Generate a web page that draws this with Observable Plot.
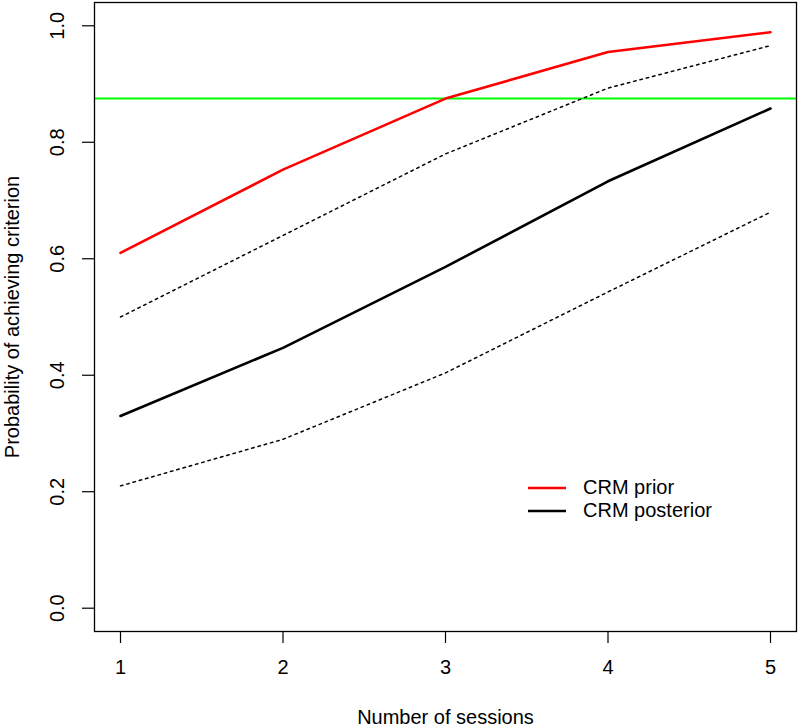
<!DOCTYPE html>
<html>
<head>
<meta charset="utf-8">
<script src="https://cdn.jsdelivr.net/npm/d3@7"></script>
<script src="https://cdn.jsdelivr.net/npm/@observablehq/plot@0.6"></script>
<style>
  html, body { margin: 0; padding: 0; background: #fff; }
  #wrap { position: relative; width: 800px; height: 728px; font-family: "Liberation Sans", Arial, sans-serif; }
  #legend { position: absolute; left: 527px; top: 476px; font-size: 20px; color: #000; }
  #legend .row { display: flex; align-items: center; height: 23px; }
  #legend svg { margin-right: 16px; }
</style>
</head>
<body>
<div id="wrap"></div>
<script>
const sessions = [1, 2, 3, 4, 5];
const priorProb = [0.61, 0.753, 0.875, 0.955, 0.989];
const posteriorMean = [0.33, 0.447, 0.586, 0.733, 0.858];
const posteriorUpper = [0.50, 0.640, 0.780, 0.893, 0.966];
const posteriorLower = [0.21, 0.290, 0.404, 0.543, 0.680];
const criterion = 0.875;
const yTicks = [0.0, 0.2, 0.4, 0.6, 0.8, 1.0];
const xLabel = "Number of sessions";
const yLabel = "Probability of achieving criterion";
const legendItems = [
  {label: "CRM prior", color: "#ff0000"},
  {label: "CRM posterior", color: "#000000"}
];

const toRows = (vals) => sessions.map((s, i) => ({x: s, y: vals[i]}));

const fs = 20;
const chart = Plot.plot({
  width: 800,
  height: 728,
  marginLeft: 94,
  marginRight: 4,
  marginTop: 2,
  marginBottom: 97,
  style: {fontFamily: '"Liberation Sans", Arial, sans-serif', fontSize: fs + "px", background: "#fff", color: "#000"},
  x: {domain: [0.84, 5.16]},
  y: {domain: [-0.04, 1.04]},
  marks: [
    Plot.ruleY([criterion], {stroke: "#00ff00", strokeWidth: 2}),
    Plot.line(toRows(posteriorUpper), {x: "x", y: "y", stroke: "#000", strokeWidth: 1.5, strokeDasharray: "2.5,4"}),
    Plot.line(toRows(posteriorLower), {x: "x", y: "y", stroke: "#000", strokeWidth: 1.5, strokeDasharray: "2.5,4"}),
    Plot.line(toRows(posteriorMean), {x: "x", y: "y", stroke: "#000", strokeWidth: 2.6}),
    Plot.line(toRows(priorProb), {x: "x", y: "y", stroke: "#ff0000", strokeWidth: 2.6}),
    Plot.frame({stroke: "#000", strokeWidth: 1.3}),
    Plot.axisX(sessions, {tickSize: 12, tickPadding: 16, strokeWidth: 1.2, fontSize: fs, label: null, tickFormat: d => String(d)}),
    Plot.axisY(yTicks, {tickSize: 12, strokeWidth: 1.2, text: null, label: null}),
    Plot.text(yTicks, {y: d => d, frameAnchor: "left", dx: -37, rotate: -90, text: d => d.toFixed(1), textAnchor: "middle", lineAnchor: "middle", fontSize: fs, fill: "#000"}),
    Plot.text([xLabel], {frameAnchor: "bottom", dy: 86, text: d => d, lineAnchor: "middle", fontSize: fs, fill: "#000"}),
    Plot.text([yLabel], {frameAnchor: "left", dx: -82, rotate: -90, text: d => d, lineAnchor: "middle", textAnchor: "middle", fontSize: fs, fill: "#000"})
  ]
});
const wrap = document.getElementById("wrap");
wrap.appendChild(chart);

const legend = document.createElement("div");
legend.id = "legend";
for (const item of legendItems) {
  const row = document.createElement("div");
  row.className = "row";
  row.innerHTML = `<svg width="40" height="6"><line x1="1" y1="3" x2="39" y2="3" stroke="${item.color}" stroke-width="2.6"/></svg><span>${item.label}</span>`;
  legend.appendChild(row);
}
wrap.appendChild(legend);
</script>
</body>
</html>
